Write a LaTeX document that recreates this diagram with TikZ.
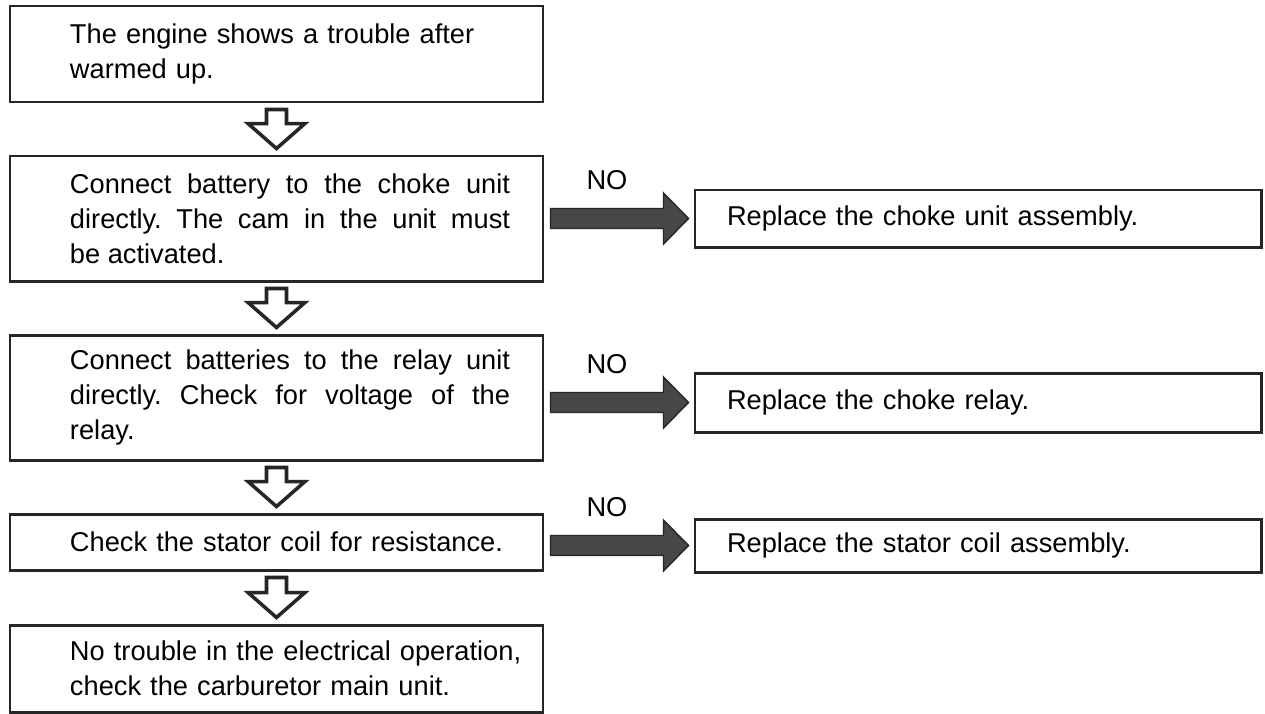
\documentclass[tikz,border=0pt]{standalone}
\usepackage{fontspec}
\setmainfont{Liberation Sans}
\usetikzlibrary{calc}
\frenchspacing

\begin{document}
\begin{tikzpicture}[
    stepbox/.style={rectangle, draw=black!85, line width=1.7pt, inner sep=0pt,
                    minimum width=10.66cm, text width=10.66cm, align=left,
                    font=\fontsize{15.5}{19.8}\selectfont,
                    execute at begin node={\leftskip=1.2cm}},
    justbox/.style={stepbox, align=justify,
                    execute at begin node={\leftskip=1.2cm\rightskip=0.66cm}},
    fixbox/.style={stepbox, minimum width=11.32cm, text width=11.32cm,
                   execute at begin node={\leftskip=0.64cm}},
    hollowarrow/.style={draw=black!85, line width=2pt, fill=white, line join=miter},
    blockarrow/.style={draw=black!85, line width=0.8pt, fill=black!72},
    nolabel/.style={font=\fontsize{15.5}{19.8}\selectfont, inner sep=0pt}
  ]

  % ---- Frame ----
  \useasboundingbox (0,0) rectangle (25.3,-14.28);

  % ============ LEFT: checking steps ============

  \node[stepbox, minimum height=1.92cm] (b1) at (5.53,-1.08)
    {The engine shows a trouble after\\ warmed up.};

  \node[justbox, minimum height=2.5cm] (b2) at (5.53,-4.37)
    {Connect battery to the choke unit\linebreak
     directly. The cam in the unit must\linebreak
     be activated.};

  \node[justbox, minimum height=2.5cm] (b3) at (5.53,-7.95)
    {Connect batteries to the relay unit\linebreak
     directly. Check for voltage of the\linebreak
     relay.};

  \node[stepbox, minimum height=1.12cm] (b4) at (5.53,-10.84)
    {Check the stator coil for resistance.};

  \node[stepbox, minimum height=1.74cm] (b5) at (5.53,-13.37)
    {No trouble in the electrical operation,\\ check the carburetor main unit.};

  % ============ RIGHT: remedies ============

  \node[fixbox, minimum height=1.14cm] (r1) at (19.56,-4.37)
    {Replace the choke unit assembly.};

  \node[fixbox, minimum height=1.18cm] (r2) at (19.56,-8.05)
    {Replace the choke relay.};

  \node[fixbox, minimum height=1.06cm] (r3) at (19.56,-10.91)
    {Replace the stator coil assembly.};

  % Hollow arrows down the steps
  \foreach \a/\b in {b1/b2, b2/b3, b3/b4, b4/b5}
    \draw[hollowarrow]
      let \p1=($(\a.south)+(0,-0.12)$), \p2=($(\b.north)+(0,0.12)$) in
      (\x1-0.2cm,\y1) -- (\x1+0.2cm,\y1) -- (\x1+0.2cm,\y2+0.5cm)
      -- (\x1+0.57cm,\y2+0.5cm) -- (\x1,\y2) -- (\x1-0.57cm,\y2+0.5cm)
      -- (\x1-0.2cm,\y2+0.5cm) -- cycle;

  % Shaded NO arrows to the remedies
  \foreach \a/\b in {b2/r1, b3/r2, b4/r3}
    \draw[blockarrow]
      let \p1=($(\a.east)+(0.12,0)$), \p2=($(\b.west)+(-0.1,0)$) in
      (\x1,\y2+0.2cm)
      -- node[nolabel, midway, above=0.36cm] (no-\b) {NO} (\x2-0.5cm,\y2+0.2cm)
      -- (\x2-0.5cm,\y2+0.51cm) -- (\x2,\y2) -- (\x2-0.5cm,\y2-0.51cm)
      -- (\x2-0.5cm,\y2-0.2cm) -- (\x1,\y2-0.2cm) -- cycle;

\end{tikzpicture}
\end{document}
